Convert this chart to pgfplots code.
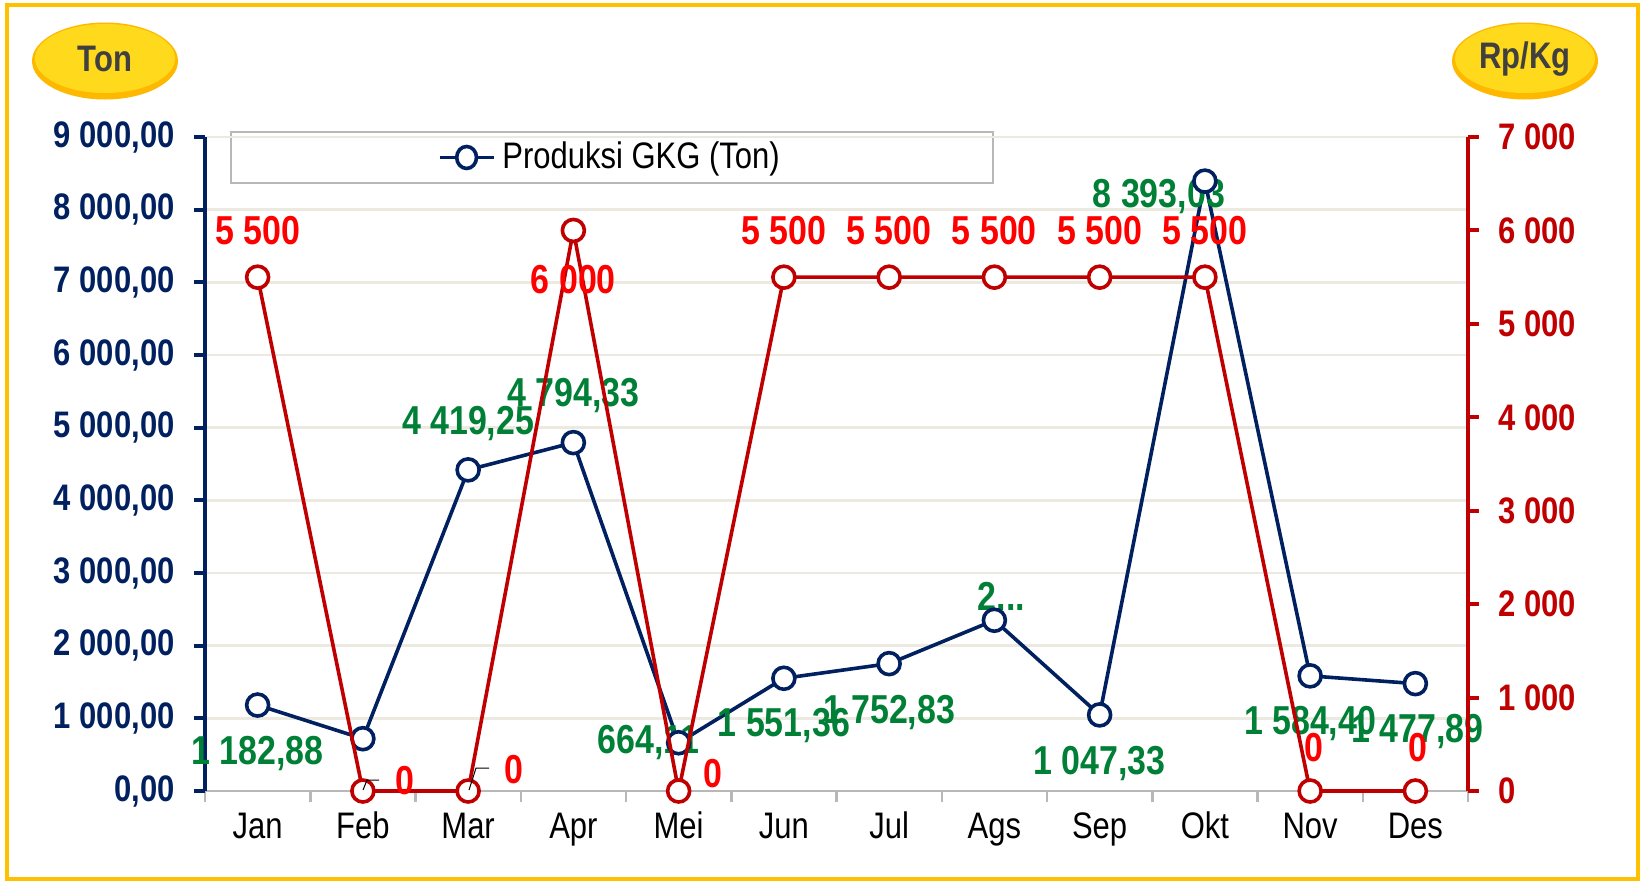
\documentclass[border=0pt]{standalone}
\usepackage{fontspec}
\setmainfont{Liberation Sans}[FakeStretch=0.84]
\usepackage{pgfplots}
\pgfplotsset{compat=1.18}

\definecolor{navy}{RGB}{0,32,96}
\definecolor{darkred}{RGB}{192,0,0}
\definecolor{lblred}{RGB}{255,0,0}
\definecolor{lblgreen}{RGB}{0,128,55}
\definecolor{gridc}{RGB}{236,234,224}
\definecolor{framec}{RGB}{255,192,0}
\definecolor{badge}{RGB}{255,217,28}
\definecolor{badgedark}{RGB}{255,184,0}
\definecolor{badgetext}{RGB}{64,64,64}

\pgfplotsset{
  common/.style={
    at={(20.5mm,9.1mm)}, anchor=south west,
    scale only axis, width=126.3mm, height=65.4mm,
    xmin=-0.5, xmax=11.5, ymin=0,
    tick align=outside,
    major tick length=1.1mm,
    clip=false,
  },
}
\tikzset{
  glab/.style={lblgreen, font=\bfseries\fontsize{11.5}{12}\selectfont, inner sep=0pt},
  rlab/.style={lblred, font=\bfseries\fontsize{11.5}{12}\selectfont, inner sep=0pt},
}

\begin{document}
\begin{tikzpicture}
\useasboundingbox (0,0) rectangle (164mm,88.2mm);
\fill[white] (0,0) rectangle (164mm,88.2mm);
\draw[framec, line width=0.4mm] (0.7mm,0.3mm) rectangle (163.8mm,87.7mm);

% badges
\fill[badgedark] (10.5mm,82.1mm) ellipse (7.3mm and 3.85mm);
\fill[badge] (10.5mm,82.35mm) ellipse (7.0mm and 3.45mm);
\node[badgetext, font=\bfseries\fontsize{10.5}{12}\selectfont] at (10.5mm,82.3mm) {Ton};
\fill[badgedark] (152.5mm,82.1mm) ellipse (7.3mm and 3.85mm);
\fill[badge] (152.5mm,82.35mm) ellipse (7.0mm and 3.45mm);
\node[badgetext, font=\bfseries\fontsize{10.5}{12}\selectfont] at (152.5mm,82.3mm) {Rp/Kg};

% legend frame
\draw[black!28, line width=0.2mm] (23.1mm,69.9mm) rectangle (99.3mm,75.0mm);

\begin{axis}[common,
  ymax=9000,
  axis x line*=bottom, axis y line*=left,
  x axis line style={black!28, line width=0.25mm},
  y axis line style={navy, line width=0.4mm},
  xtick={-0.5,0.5,...,11.5},
  xticklabels={},
  x tick style={black!28, line width=0.25mm},
  extra x ticks={0,1,...,11},
  extra x tick labels={Jan,Feb,Mar,Apr,Mei,Jun,Jul,Ags,Sep,Okt,Nov,Des},
  extra x tick style={tick style={draw=none}, major tick length=0pt,
    tick label style={font=\fontsize{10.5}{12}\selectfont, black,
      text height=2.6mm, text depth=0.7mm, yshift=-0.9mm}},
  ytick={0,1000,...,9000},
  yticklabels={{0,00},{1 000,00},{2 000,00},{3 000,00},{4 000,00},{5 000,00},{6 000,00},{7 000,00},{8 000,00},{9 000,00}},
  y tick style={navy, line width=0.4mm},
  yticklabel style={font=\bfseries\fontsize{10.5}{12}\selectfont, navy, xshift=-0.7mm},
  ymajorgrids, grid style={gridc, line width=0.25mm},
  legend style={at={(0.3225,0.9687)}, anchor=center, draw=none, fill=none,
    font=\fontsize{10.5}{12}\selectfont, inner sep=0pt},
  legend image post style={xscale=0.9},
]
\addplot[navy, line width=0.36mm, mark=*, mark size=1.1mm,
  mark options={fill=white, draw=navy, line width=0.36mm}]
  coordinates {(0,1182.88) (1,720) (2,4419.25) (3,4794.33) (4,664.11) (5,1551.36)
               (6,1752.83) (7,2350) (8,1047.33) (9,8393.03) (10,1584.40) (11,1477.89)};
\addlegendentry{Produksi GKG (Ton)}

\node[glab, yshift=-4.8mm] at (axis cs:0,1182.88) {1 182,88};
\node[glab, yshift=4.6mm] at (axis cs:2,4419.25) {4 419,25};
\node[glab, yshift=4.7mm] at (axis cs:3,4794.33) {4 794,33};
\node[glab, xshift=-3.0mm] at (axis cs:4,664.11) {664,11};
\node[glab, yshift=-4.7mm] at (axis cs:5,1551.36) {1 551,36};
\node[glab, yshift=-4.9mm] at (axis cs:6,1752.83) {1 752,83};
\node[glab, xshift=0.7mm, yshift=2.4mm] at (axis cs:7,2350) {2...};
\node[glab, yshift=-4.9mm] at (axis cs:8,1047.33) {1 047,33};
\node[glab, xshift=-4.6mm, yshift=-1.5mm] at (axis cs:9,8393.03) {8 393,03};
\node[glab, yshift=-4.8mm] at (axis cs:10,1584.40) {1 584,40};
\node[glab, xshift=0.2mm, yshift=-4.8mm] at (axis cs:11,1477.89) {1 477,89};
\end{axis}

\begin{axis}[common,
  ymax=7000,
  axis x line=none, axis y line*=right,
  y axis line style={darkred, line width=0.4mm},
  ytick={0,1000,...,7000},
  yticklabels={0,{1 000},{2 000},{3 000},{4 000},{5 000},{6 000},{7 000}},
  y tick style={darkred, line width=0.4mm},
  yticklabel style={font=\bfseries\fontsize{10.5}{12}\selectfont, darkred, anchor=west, xshift=0.7mm},
]
\addplot[darkred, line width=0.36mm, mark=*, mark size=1.1mm,
  mark options={fill=white, draw=darkred, line width=0.36mm}]
  coordinates {(0,5500) (1,0) (2,0) (3,6000) (4,0) (5,5500)
               (6,5500) (7,5500) (8,5500) (9,5500) (10,0) (11,0)};

\node[rlab, yshift=4.7mm] at (axis cs:0,5500) {5 500};
\node[rlab, xshift=4.2mm, yshift=1.0mm] at (axis cs:1,0) {0};
\node[rlab, xshift=4.6mm, yshift=2.1mm] at (axis cs:2,0) {0};
\node[rlab, yshift=-4.9mm] at (axis cs:3,6000) {6 000};
\node[rlab, xshift=3.4mm, yshift=1.7mm] at (axis cs:4,0) {0};
\node[rlab, yshift=4.7mm] at (axis cs:5,5500) {5 500};
\node[rlab, yshift=4.7mm] at (axis cs:6,5500) {5 500};
\node[rlab, yshift=4.7mm] at (axis cs:7,5500) {5 500};
\node[rlab, yshift=4.7mm] at (axis cs:8,5500) {5 500};
\node[rlab, yshift=4.7mm] at (axis cs:9,5500) {5 500};
\node[rlab, xshift=0.4mm, yshift=4.3mm] at (axis cs:10,0) {0};
\node[rlab, xshift=0.3mm, yshift=4.3mm] at (axis cs:11,0) {0};
\end{axis}

% small leader lines
\draw[black, line width=0.1mm] (36.3mm,9.2mm) -- (36.7mm,10.2mm) -- (37.9mm,10.2mm);
\draw[black, line width=0.1mm] (46.9mm,9.2mm) -- (47.6mm,11.4mm) -- (48.9mm,11.4mm);
\end{tikzpicture}
\end{document}
